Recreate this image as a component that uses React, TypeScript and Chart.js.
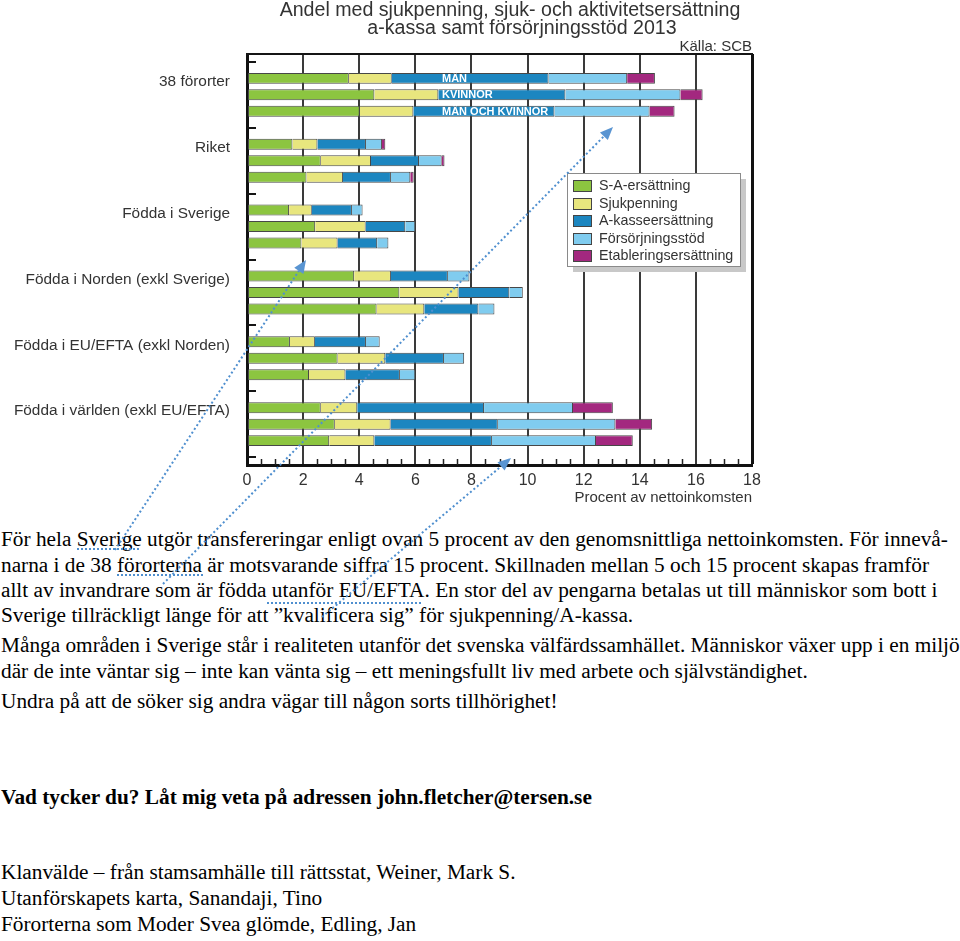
import React, { useEffect, useRef } from "react";
import { Chart, registerables } from "chart.js";

Chart.register(...registerables);

// ---------- data ----------
const GROUPS = [
  "38 förorter",
  "Riket",
  "Födda i Sverige",
  "Födda i Norden (exkl Sverige)",
  "Födda i EU/EFTA (exkl Norden)",
  "Födda i världen (exkl EU/EFTA)",
];
const GENDERS = ["MÄN", "KVINNOR", "MÄN OCH KVINNOR"];
const COMPONENTS = [
  "S-A-ersättning",
  "Sjukpenning",
  "A-kasseersättning",
  "Försörjningsstöd",
  "Etableringsersättning",
];
const X_MIN = 0;
const X_MAX = 18;
const X_STEP = 2;

// S-A-ersättning
const SA_MAN = [3.63, 1.62, 1.5, 3.82, 1.53, 2.63];
const SA_KVINNOR = [4.54, 2.63, 2.43, 5.43, 3.23, 3.13];
const SA_ALLA = [4.02, 2.12, 1.94, 4.62, 2.21, 2.93];
// Sjukpenning
const SJUK_MAN = [1.53, 0.89, 0.81, 1.31, 0.89, 1.3];
const SJUK_KVINNOR = [2.28, 1.79, 1.8, 2.11, 1.7, 1.99];
const SJUK_ALLA = [1.91, 1.3, 1.29, 1.7, 1.3, 1.61];
// A-kasseersättning
const AKASSA_MAN = [5.59, 1.73, 1.43, 2.03, 1.82, 4.52];
const AKASSA_KVINNOR = [4.53, 1.71, 1.41, 1.81, 2.09, 3.82];
const AKASSA_ALLA = [5.03, 1.71, 1.41, 1.93, 1.94, 4.19];
// Försörjningsstöd
const FORS_MAN = [2.8, 0.57, 0.38, 0.77, 0.49, 3.17];
const FORS_KVINNOR = [4.1, 0.81, 0.36, 0.48, 0.72, 4.19];
const FORS_ALLA = [3.39, 0.69, 0.4, 0.57, 0.55, 3.71];
// Etableringsersättning
const ETAB_MAN = [0.99, 0.12, 0, 0, 0, 1.42];
const ETAB_KVINNOR = [0.79, 0.1, 0, 0, 0, 1.31];
const ETAB_ALLA = [0.89, 0.12, 0, 0, 0, 1.31];

const SERIES = [
  [SA_MAN, SA_KVINNOR, SA_ALLA],
  [SJUK_MAN, SJUK_KVINNOR, SJUK_ALLA],
  [AKASSA_MAN, AKASSA_KVINNOR, AKASSA_ALLA],
  [FORS_MAN, FORS_KVINNOR, FORS_ALLA],
  [ETAB_MAN, ETAB_KVINNOR, ETAB_ALLA],
];

const TITLE_1 = "Andel med sjukpenning, sjuk- och aktivitetsersättning";
const TITLE_2 = "a-kassa samt försörjningsstöd 2013";
const SOURCE = "Källa: SCB";
const X_TITLE = "Procent av nettoinkomsten";
const GENDER_LABEL_AT = 6.95;

// ---------- styles ----------
const COLORS = ["#8cc540", "#e8e67e", "#1c86c0", "#80ccef", "#a3287f"];
const FONT = "'Liberation Sans', Arial, Helvetica, sans-serif";
const SERIF = "'Liberation Serif', 'Times New Roman', Times, serif";
const Y_PAD = 0.12;

const TEXT_LINES = [
  { t: "För hela Sverige utgör transfereringar enligt ovan 5 procent av den genomsnittliga nettoinkomsten. För innevå-", b: 546 },
  { t: "narna i de 38 förorterna är motsvarande siffra 15 procent. Skillnaden mellan 5 och 15 procent skapas framför", b: 572 },
  { t: "allt av invandrare som är födda utanför EU/EFTA. En stor del av pengarna betalas ut till människor som bott i", b: 597 },
  { t: "Sverige tillräckligt länge för att ”kvalificera sig” för sjukpenning/A-kassa.", b: 622 },
  { t: "Många områden i Sverige står i realiteten utanför det svenska välfärdssamhället. Människor växer upp i en miljö", b: 652 },
  { t: "där de inte väntar sig – inte kan vänta sig – ett meningsfullt liv med arbete och självständighet.", b: 678 },
  { t: "Undra på att de söker sig andra vägar till någon sorts tillhörighet!", b: 708 },
  { t: "Vad tycker du? Låt mig veta på adressen john.fletcher@tersen.se", b: 804, bold: true },
  { t: "Klanvälde – från stamsamhälle till rättsstat, Weiner, Mark S.", b: 879 },
  { t: "Utanförskapets karta, Sanandaji, Tino", b: 905 },
  { t: "Förorterna som Moder Svea glömde, Edling, Jan", b: 931 },
];

const ARROWS = [
  { x1: 115, y1: 550, x2: 306, y2: 260 },
  { x1: 163, y1: 584, x2: 613, y2: 127 },
  { x1: 322, y1: 617, x2: 511, y2: 458 },
];
const UNDERLINES = [
  { x1: 77, x2: 141, y: 549 },
  { x1: 117, x2: 204, y: 575 },
  { x1: 267, x2: 421, y: 603 },
];

const decor = {
  id: "decor",
  afterDraw(chart: any) {
    const { ctx, chartArea: a } = chart;
    const xs = chart.scales.x;
    const ys = chart.scales.y;
    ctx.save();
    // top frame
    ctx.strokeStyle = "#151515";
    ctx.lineWidth = 2;
    ctx.beginPath();
    ctx.moveTo(a.left - 1, a.top);
    ctx.lineTo(a.right + 1, a.top);
    ctx.stroke();
    // minor x ticks
    ctx.lineWidth = 1.5;
    ctx.strokeStyle = "#222";
    for (let v = X_MIN + 0.5; v < X_MAX; v += 0.5) {
      if (v % X_STEP === 0) continue;
      const px = Math.round(xs.getPixelForValue(v)) + 0.5;
      ctx.beginPath();
      ctx.moveTo(px, a.bottom);
      ctx.lineTo(px, a.bottom - 6);
      ctx.stroke();
    }
    // y ticks (inward, at group boundaries)
    ctx.lineWidth = 2;
    ctx.strokeStyle = "#151515";
    for (let i = 0; i <= GROUPS.length; i++) {
      const py = Math.round(ys.getPixelForValue(i - 0.5));
      ctx.beginPath();
      ctx.moveTo(a.left, py);
      ctx.lineTo(a.left + 9, py);
      ctx.stroke();
    }
    // gender labels on first group
    ctx.fillStyle = "#ffffff";
    ctx.font = `bold 11px ${FONT}`;
    ctx.textBaseline = "middle";
    ctx.textAlign = "left";
    GENDERS.forEach((g, gi) => {
      const meta = chart.getDatasetMeta(2 * GENDERS.length + gi);
      const bar = meta.data[0];
      if (bar) ctx.fillText(g, xs.getPixelForValue(GENDER_LABEL_AT), bar.y + 0.5);
    });
    // titles
    ctx.fillStyle = "#333";
    ctx.textAlign = "center";
    ctx.font = `19.6px ${FONT}`;
    ctx.fillText(TITLE_1, 510, 11);
    ctx.fillText(TITLE_2, 522, 29);
    ctx.textAlign = "right";
    ctx.font = `15px ${FONT}`;
    ctx.fillText(SOURCE, a.right, 47);
    // legend
    const lx = 567, ly = 173, lw = 173, lh = 93;
    ctx.fillStyle = "#c8c8c8";
    ctx.fillRect(lx + 6, ly + 6, lw, lh);
    ctx.fillStyle = "#ffffff";
    ctx.fillRect(lx, ly, lw, lh);
    ctx.strokeStyle = "#8a8a8a";
    ctx.lineWidth = 1;
    ctx.strokeRect(lx + 0.5, ly + 0.5, lw, lh);
    COMPONENTS.forEach((name, i) => {
      const cy = Math.round(186 + i * 17.5);
      ctx.fillStyle = COLORS[i];
      ctx.fillRect(573, cy - 6, 19, 12);
      ctx.strokeStyle = "#444";
      ctx.strokeRect(573.5, cy - 5.5, 18, 11);
      ctx.fillStyle = "#333";
      ctx.font = `14.3px ${FONT}`;
      ctx.textAlign = "left";
      ctx.textBaseline = "middle";
      ctx.fillText(name, 599, cy + 0.5);
    });
    ctx.restore();
  },
};

export default function App() {
  const ref = useRef<HTMLCanvasElement>(null);

  useEffect(() => {
    const datasets: any[] = [];
    SERIES.forEach((byGender, c) => {
      byGender.forEach((vals, g) => {
        datasets.push({
          label: COMPONENTS[c],
          data: vals,
          stack: GENDERS[g],
          backgroundColor: COLORS[c],
          borderColor: "#474747",
          borderWidth: { top: 1, bottom: 1, right: 1, left: c === 0 ? 1 : 0 },
          borderSkipped: false,
          categoryPercentage: 0.75,
          barPercentage: 0.667,
        });
      });
    });

    const chart = new Chart(ref.current as HTMLCanvasElement, {
      type: "bar",
      data: { labels: GROUPS, datasets },
      plugins: [decor],
      options: {
        indexAxis: "y",
        responsive: false,
        animation: false,
        devicePixelRatio: 1,
        layout: { padding: { top: 54, right: 208, left: 0, bottom: 0 } },
        plugins: {
          legend: { display: false },
          tooltip: { enabled: false },
          title: { display: false },
        },
        scales: {
          x: {
            type: "linear",
            min: X_MIN,
            max: X_MAX,
            stacked: true,
            afterFit: (s: any) => {
              s.height = 45;
            },
            ticks: {
              stepSize: X_STEP,
              color: "#333",
              font: { size: 16, family: FONT },
              padding: 6,
              maxRotation: 0,
              autoSkip: false,
            },
            grid: {
              drawTicks: false,
              color: (c: any) =>
                c.tick && c.tick.value === X_MAX ? "#111" : c.tick && c.tick.value === X_MIN ? "rgba(0,0,0,0)" : "#3a3a3a",
              lineWidth: (c: any) => (c.tick && c.tick.value === X_MAX ? 3 : 2),
            },
            border: { display: true, color: "#111", width: 3 },
            title: {
              display: true,
              text: X_TITLE,
              align: "end",
              color: "#333",
              font: { size: 15, family: FONT },
              padding: { top: 0, bottom: 3 },
            },
          },
          y: {
            type: "category",
            stacked: true,
            afterFit: (s: any) => {
              s.width = 247;
            },
            afterBuildTicks: (s: any) => {
              s._startValue -= Y_PAD;
              s._valueRange += 2 * Y_PAD;
            },
            grid: { drawOnChartArea: false, drawTicks: false },
            border: { display: true, color: "#111", width: 3 },
            ticks: {
              color: "#333",
              font: { size: 15.4, family: FONT },
              padding: 17,
              labelOffset: -13,
              autoSkip: false,
            },
          },
        },
      } as any,
    });
    return () => chart.destroy();
  }, []);

  const angle = (a: any) => Math.atan2(a.y2 - a.y1, a.x2 - a.x1);

  return (
    <div
      style={{
        position: "absolute",
        left: 0,
        top: 0,
        width: 960,
        height: 941,
        overflow: "hidden",
        background: "#fff",
      }}
    >
      <canvas
        ref={ref}
        width={960}
        height={510}
        style={{ position: "absolute", left: 0, top: 0, width: 960, height: 510 }}
      />
      {TEXT_LINES.map((l, i) => (
        <div
          key={i}
          style={{
            position: "absolute",
            left: 1,
            top: l.b - 20,
            whiteSpace: "nowrap",
            fontFamily: SERIF,
            fontSize: 21.3,
            lineHeight: "26px",
            fontWeight: l.bold ? "bold" : "normal",
            color: "#000",
          }}
        >
          {l.t}
        </div>
      ))}
      <svg
        width={960}
        height={941}
        style={{ position: "absolute", left: 0, top: 0, pointerEvents: "none" }}
      >
        {UNDERLINES.map((u, i) => (
          <line
            key={"u" + i}
            x1={u.x1}
            y1={u.y}
            x2={u.x2}
            y2={u.y}
            stroke="#4f8fcf"
            strokeWidth={2}
            strokeDasharray="2 2"
          />
        ))}
        {ARROWS.map((a, i) => {
          const t = angle(a);
          const L = 13;
          const W = 5.5;
          const bx = a.x2 - L * Math.cos(t);
          const by = a.y2 - L * Math.sin(t);
          const px = -Math.sin(t) * W;
          const py = Math.cos(t) * W;
          return (
            <g key={"a" + i}>
              <line
                x1={a.x1}
                y1={a.y1}
                x2={bx}
                y2={by}
                stroke="#4f8fcf"
                strokeWidth={2}
                strokeDasharray="2 2.5"
              />
              <polygon
                points={`${a.x2},${a.y2} ${bx + px},${by + py} ${bx - px},${by - py}`}
                fill="#5a95d2"
              />
            </g>
          );
        })}
      </svg>
    </div>
  );
}
